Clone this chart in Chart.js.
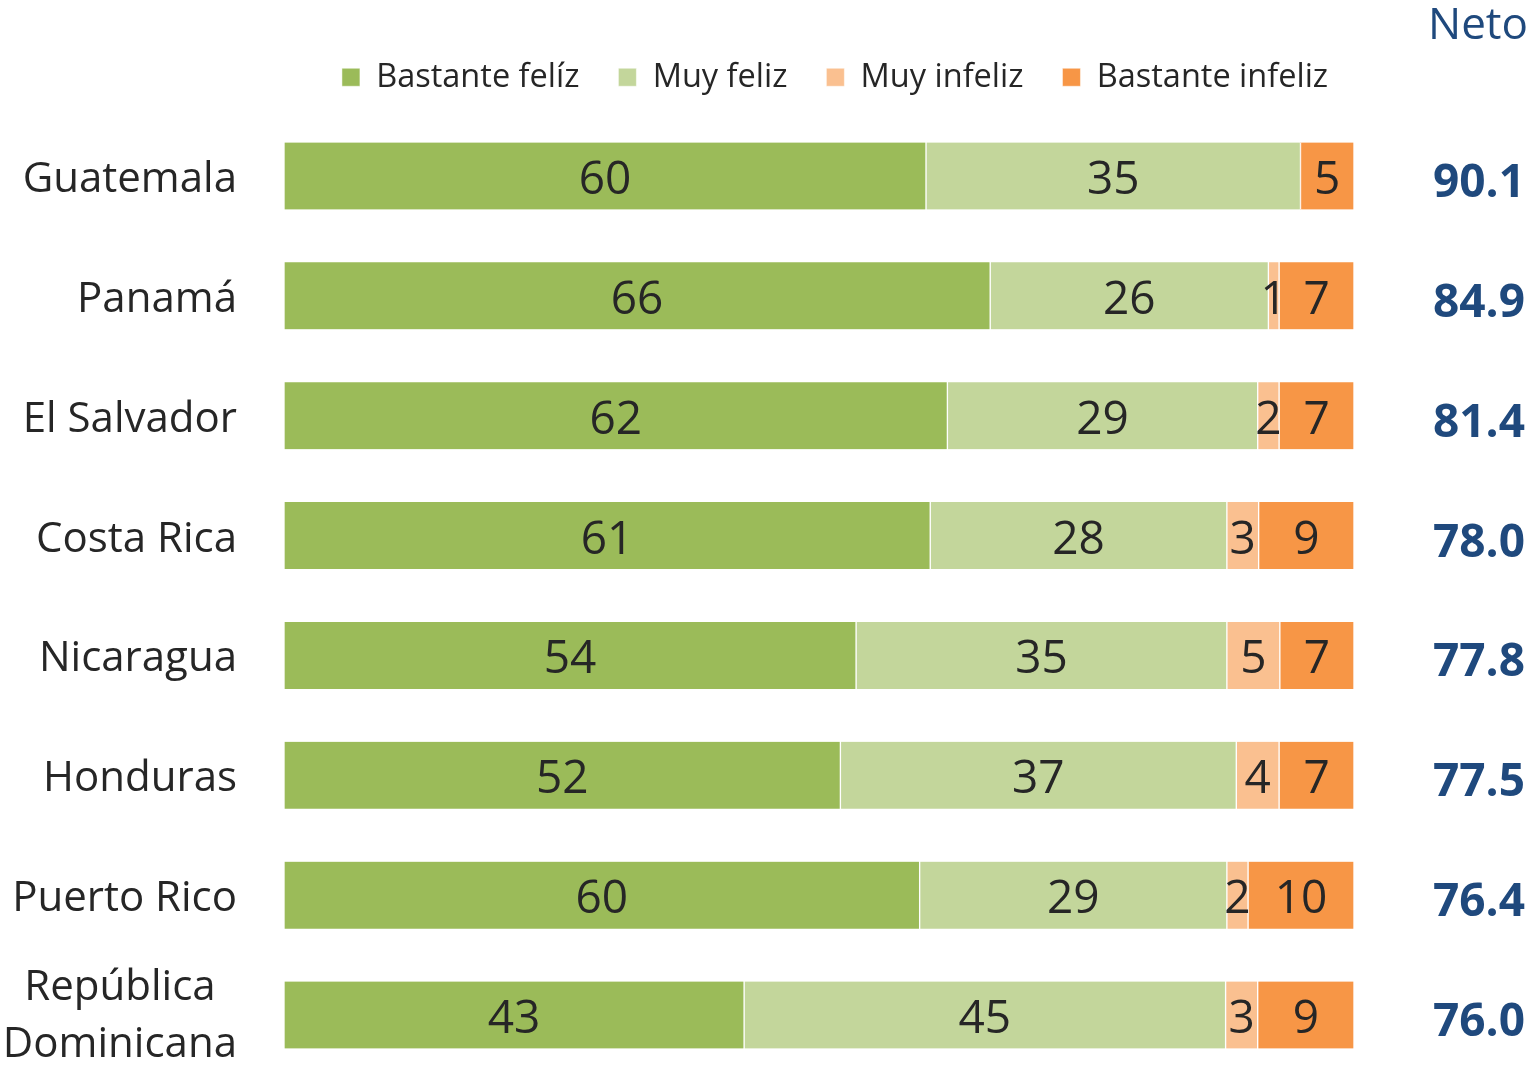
<!DOCTYPE html>
<html lang="es">
<head>
<meta charset="utf-8">
<title>Felicidad por país</title>
<script src="https://cdn.jsdelivr.net/npm/chart.js@4.4.0/dist/chart.umd.min.js"></script>
<style>
  html, body { margin: 0; padding: 0; background: #fff; overflow: hidden; }
  #chart { display: block; }
</style>
</head>
<body>
<canvas id="chart" width="1537" height="1067"></canvas>
<script>
// Data
const countries = ['Guatemala', 'Panamá', 'El Salvador', 'Costa Rica', 'Nicaragua', 'Honduras', 'Puerto Rico', ['República', 'Dominicana']];
const seriesNames = ['Bastante felíz', 'Muy feliz', 'Muy infeliz', 'Bastante infeliz'];
const bastanteFeliz = [60, 66, 62, 61, 54, 52, 60, 43];
const muyFeliz = [35, 26, 29, 28, 35, 37, 29, 45];
const muyInfeliz = [0, 1, 2, 3, 5, 4, 2, 3];
const bastanteInfeliz = [5, 7, 7, 9, 7, 7, 10, 9];
const neto = [90.1, 84.9, 81.4, 78.0, 77.8, 77.5, 76.4, 76.0];
const netoTitle = 'Neto';

const colors = ['#9BBB59', '#C3D69B', '#FAC090', '#F79646'];
const FONT = "'Open Sans', 'Noto Sans', sans-serif";
const TEXT = '#262626';
const BLUE = '#1F497D';

// draws segment values, country names and the Neto column
const textPlugin = {
    id: 'textPlugin',
    afterDatasetsDraw(chart){
        let ctx = chart.ctx;
        let yScale = chart.scales.y;
        let area = chart.chartArea;
        ctx.save();
        ctx.textBaseline = 'alphabetic';

        // values inside the bars
        ctx.font = '46px ' + FONT;
        ctx.fillStyle = TEXT;
        ctx.textAlign = 'center';
        chart.data.datasets.forEach((ds, k) => {
            let meta = chart.getDatasetMeta(k);
            meta.data.forEach((bar, i) => {
                let v = ds.raw[i];
                if(!v) return;
                ctx.fillText(String(v), (bar.x + bar.base) / 2, bar.y + 18);
            });
        });

        // country names on the left
        ctx.font = '42px ' + FONT;
        let rightX = area.left - 47;
        countries.forEach((name, i) => {
            let y = yScale.getPixelForValue(i);
            if(Array.isArray(name)){
                let w = Math.max(...name.map(t => ctx.measureText(t).width));
                ctx.textAlign = 'center';
                name.forEach((t, j) => ctx.fillText(t, rightX - w / 2, y - 15 + j * 57));
            } else {
                ctx.textAlign = 'right';
                ctx.fillText(name, rightX, y + 16);
            }
        });

        // Neto values on the right
        ctx.font = 'bold 46px ' + FONT;
        ctx.fillStyle = BLUE;
        ctx.textAlign = 'right';
        neto.forEach((v, i) => {
            let y = yScale.getPixelForValue(i);
            ctx.fillText(v.toFixed(1), chart.width - 12, y + 21);
        });

        // Neto header
        ctx.font = '44px ' + FONT;
        ctx.fillText(netoTitle, chart.width - 9, 39);
        ctx.restore();
    }
};

main();

function main(){
    let series = [bastanteFeliz, muyFeliz, muyInfeliz, bastanteInfeliz];

    // every bar is 100% wide, so turn the printed values into shares of the row
    let rowSums = countries.map((c, i) => series.reduce((s, arr) => s + arr[i], 0));

    let datasets = series.map((values, k) => ({
        label: seriesNames[k],
        raw: values,
        data: values.map((v, i) => v / rowSums[i] * 100),
        backgroundColor: colors[k],
        borderColor: '#ffffff',
        borderWidth: {left: 1, right: 1, top: 0, bottom: 0},
        borderSkipped: false,
        barThickness: 67,
        clip: false
    }));

    let context = document.getElementById('chart').getContext('2d');
    new Chart(context, {
        type: 'bar',
        data: {
            labels: countries,
            datasets: datasets
        },
        options: {
            indexAxis: 'y',
            responsive: false,
            animation: false,
            layout: {
                padding: {top: 22, left: 284, right: 151, bottom: 52}
            },
            scales: {
                x: {
                    type: 'linear',
                    position: 'top',
                    stacked: true,
                    min: 0,
                    max: 100,
                    grid: {display: false},
                    border: {display: false},
                    ticks: {display: false},
                    // room between legend and first bar
                    afterFit: s => { s.height = 72.5; }
                },
                y: {
                    type: 'category',
                    position: 'right',
                    stacked: true,
                    offset: false,
                    grid: {display: false},
                    border: {display: false},
                    ticks: {display: false},
                    afterFit: s => { s.width = 32; }
                }
            },
            plugins: {
                legend: {
                    position: 'top',
                    labels: {
                        font: {family: FONT, size: 32.5},
                        color: TEXT,
                        boxWidth: 18,
                        boxHeight: 18,
                        padding: 39
                    }
                },
                tooltip: {enabled: false}
            }
        },
        plugins: [textPlugin]
    });
}
</script>
</body>
</html>
